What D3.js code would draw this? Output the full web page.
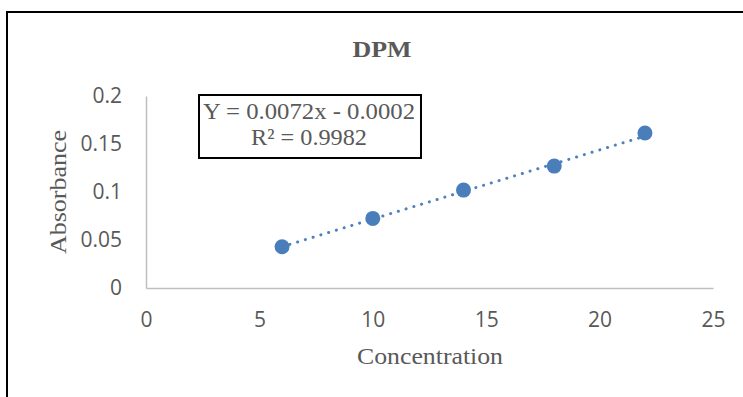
<!DOCTYPE html>
<html>
<head>
<meta charset="utf-8">
<script src="https://cdn.jsdelivr.net/npm/d3@7"></script>
<style>
  body { margin: 0; background: #fff; }
</style>
</head>
<body>
<script>
'use strict';

// measured points (concentration vs absorbance)
const concentration = [6, 10, 14, 18, 22];
const absorbance = [0.043, 0.0725, 0.102, 0.127, 0.1615];
const xTicks = [0, 5, 10, 15, 20, 25];
const yTicks = [0, 0.05, 0.1, 0.15, 0.2];
const trendSlope = 0.0072;
const trendIntercept = -0.0002;
const eqLines = ["Y = 0.0072x - 0.0002", "R\u00b2 = 0.9982"];

const svg = d3.select('body').append('svg')
  .attr('width', 743)
  .attr('height', 397);

// chart frame
svg.append('rect')
  .attr('x', 7).attr('y', 12)
  .attr('width', 760).attr('height', 400)
  .attr('fill', '#fff')
  .attr('stroke', '#000')
  .attr('stroke-width', 2);

const x = d3.scaleLinear().domain([0, 25]).range([146, 713]);
const y = d3.scaleLinear().domain([0, 0.2]).range([288, 96]);

const tickFont = '"Open Sans", sans-serif';
const serif = '"Liberation Serif", "Times New Roman", serif';

// x axis
const xAxis = svg.append('g')
  .attr('transform', 'translate(0,288)')
  .call(d3.axisBottom(x).tickValues(xTicks).tickSize(0).tickPadding(24).tickFormat(d3.format('d')));
xAxis.select('.domain').attr('stroke', '#bfbfbf').attr('stroke-width', 1.5);
xAxis.selectAll('text').attr('fill', '#595959').style('font-size', '21px').style('font-family', tickFont);

// y axis
const yAxis = svg.append('g')
  .attr('transform', 'translate(146,0)')
  .call(d3.axisLeft(y).tickValues(yTicks).tickSize(0).tickPadding(24).tickFormat(d => String(d)));
yAxis.select('.domain').attr('stroke', '#bfbfbf').attr('stroke-width', 1.5);
yAxis.selectAll('text').attr('fill', '#595959').style('font-size', '21px').style('font-family', tickFont);

// trendline
const tx = [concentration[0], concentration[concentration.length - 1]];
svg.append('line')
  .attr('x1', x(tx[0])).attr('y1', y(trendSlope * tx[0] + trendIntercept))
  .attr('x2', x(tx[1])).attr('y2', y(trendSlope * tx[1] + trendIntercept))
  .attr('stroke', '#4f81bd')
  .attr('stroke-width', 3)
  .attr('stroke-dasharray', '0.1 8')
  .attr('stroke-linecap', 'round');

// points
svg.selectAll('.dot')
  .data(concentration)
  .enter()
  .append('circle')
    .attr('class', 'dot')
    .attr('cx', d => x(d))
    .attr('cy', (d, i) => y(absorbance[i]))
    .attr('r', 7.5)
    .attr('fill', '#4a7ebb');

// equation box
svg.append('rect')
  .attr('x', 199).attr('y', 95)
  .attr('width', 222).attr('height', 63)
  .attr('fill', '#fff')
  .attr('stroke', '#000')
  .attr('stroke-width', 2);

const eqWidths = [212, 116];
svg.selectAll('.eq')
  .data(eqLines)
  .enter()
  .append('text')
    .attr('x', 309)
    .attr('y', (d, i) => 119 + i * 26)
    .attr('text-anchor', 'middle')
    .attr('textLength', (d, i) => eqWidths[i])
    .attr('lengthAdjust', 'spacingAndGlyphs')
    .attr('fill', '#595959')
    .style('font-family', serif)
    .style('font-size', '23px')
    .text(d => d);

// title and axis labels
svg.append('text')
  .attr('x', 382).attr('y', 57)
  .attr('text-anchor', 'middle')
  .attr('textLength', 59)
  .attr('lengthAdjust', 'spacingAndGlyphs')
  .attr('fill', '#595959')
  .style('font-family', serif)
  .style('font-weight', 'bold')
  .style('font-size', '24px')
  .text('DPM');

svg.append('text')
  .attr('x', 430).attr('y', 364)
  .attr('text-anchor', 'middle')
  .attr('textLength', 146)
  .attr('lengthAdjust', 'spacingAndGlyphs')
  .attr('fill', '#595959')
  .style('font-family', serif)
  .style('font-size', '24px')
  .text('Concentration');

svg.append('text')
  .attr('transform', 'translate(66,192)rotate(-90)')
  .attr('text-anchor', 'middle')
  .attr('textLength', 124)
  .attr('lengthAdjust', 'spacingAndGlyphs')
  .attr('fill', '#595959')
  .style('font-family', serif)
  .style('font-size', '24px')
  .text('Absorbance');
</script>
</body>
</html>
